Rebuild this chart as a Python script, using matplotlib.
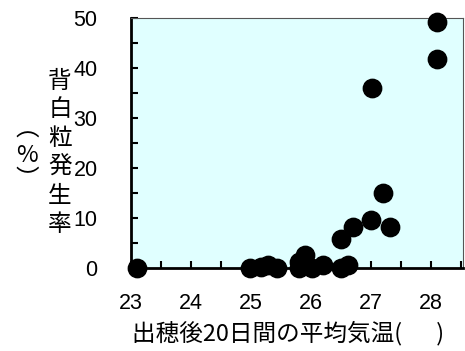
import matplotlib
matplotlib.use("Agg")
import matplotlib.pyplot as plt
from matplotlib.ticker import MultipleLocator

plt.rcParams['font.family'] = ['Liberation Sans', 'Noto Sans CJK JP', 'DejaVu Sans']

# mean temperature 20 days after heading vs. white-back grain rate
temp = [23.1, 24.98, 25.17, 25.29, 25.43, 25.79, 25.79, 25.9, 26.01, 26.2,
        26.49, 26.62, 26.49, 26.69, 27.01, 26.99, 27.19, 27.31, 28.1, 28.1]
rate = [0.0, 0.0, 0.3, 0.6, 0.0, 0.0, 1.2, 2.6, 0.0, 0.6,
        0.0, 0.6, 5.9, 8.3, 36.1, 9.6, 15.1, 8.3, 49.3, 41.9]

xticks = [23, 24, 25, 26, 27, 28]
yticks = [0, 10, 20, 30, 40, 50]

fig = plt.figure(figsize=(4.65, 3.51), dpi=100)
ax = fig.add_axes([131/465, 1 - 268/351, 332/465, 250/351])
ax.set_facecolor('#e0ffff')

ax.scatter(temp, rate, s=175, c='black', zorder=3, clip_on=False)

ax.set_xlim(23, 28.53)
ax.set_ylim(0, 50)
ax.set_xticks(xticks)
ax.set_yticks(yticks)
ax.xaxis.set_minor_locator(MultipleLocator(0.5))
ax.yaxis.set_minor_locator(MultipleLocator(5))
ax.tick_params(which='both', direction='in', length=5, width=1.5, labelsize=15.5)
ax.tick_params(axis='x', pad=18)
ax.tick_params(axis='y', pad=24)

for s in ['left', 'bottom']:
    ax.spines[s].set_linewidth(2)
    ax.spines[s].set_color('black')
for s in ['top', 'right']:
    ax.spines[s].set_linewidth(0.8)
    ax.spines[s].set_color('#555555')

cjk = ['Noto Sans CJK JP', 'DejaVu Sans']
fig.text(288/465, 1 - 333/351, '出穂後20日間の平均気温(　  )', ha='center', va='center',
         fontsize=17, family=cjk)
fig.text(60/465, 1 - 153/351, '背\n白\n粒\n発\n生\n率', ha='center', va='center',
         fontsize=17, linespacing=1.32, family=cjk)
fig.text(27/465, 1 - 155/351, '︵\n%\n︶', ha='center', va='center',
         fontsize=17, linespacing=1.1, family=cjk)

fig.savefig('out.png', dpi=100)
